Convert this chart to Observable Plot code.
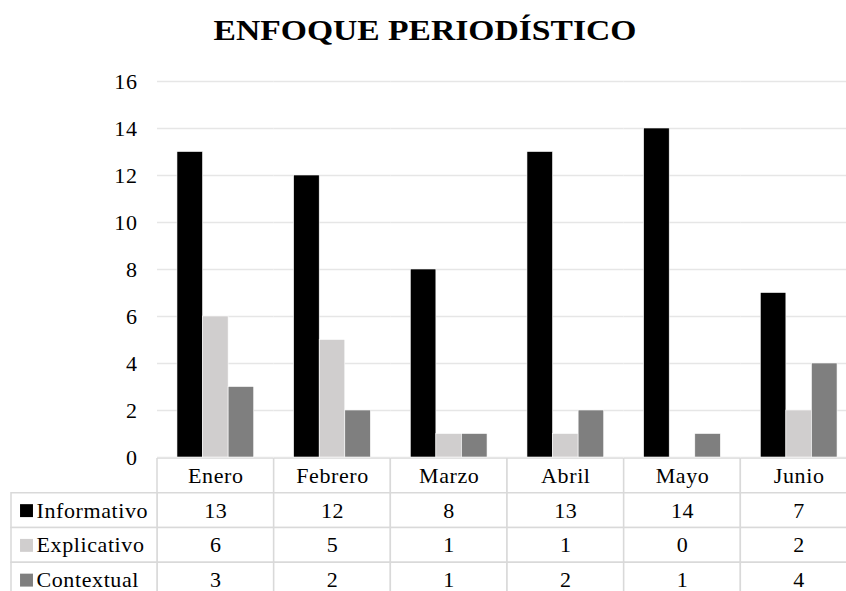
<!DOCTYPE html>
<html>
<head>
<meta charset="utf-8">
<script src="https://cdn.jsdelivr.net/npm/d3@7"></script>
<script src="https://cdn.jsdelivr.net/npm/@observablehq/plot@0.6"></script>
<style>
  html, body { margin: 0; padding: 0; background: #fff; overflow: hidden; }
  body { width: 846px; height: 591px; position: relative; font-family: 'Liberation Serif', serif; }
  #title { position: absolute; left: 0; top: 15px; width: 850px; line-height: 30px; font-size: 30px; font-weight: bold;
           text-align: center; color: #000; font-family: 'Liberation Serif', serif;
           transform: scaleX(1.12); transform-origin: 425px 50%; }
  #chart { position: absolute; left: 0; top: 56px; }
  #table { position: absolute; left: 0; top: 458px; }
  svg { display: block; }
  svg text { font-family: 'Liberation Serif', serif; letter-spacing: 0.6px; }
</style>
</head>
<body>
<div id="chart"></div>
<div id="table"></div>
<div id="title">ENFOQUE PERIODÍSTICO</div>
<script>
const months = ["Enero", "Febrero", "Marzo", "Abril", "Mayo", "Junio"];
const series = ["Informativo", "Explicativo", "Contextual"];
const informativo = [13, 12, 8, 13, 14, 7];
const explicativo = [6, 5, 1, 1, 0, 2];
const contextual = [3, 2, 1, 2, 1, 4];
const colors = ["#000000", "#d0cece", "#7f7f7f"];
const yTicks = [0, 2, 4, 6, 8, 10, 12, 14, 16];

const values = [informativo, explicativo, contextual];
const rows = [];
series.forEach((s, si) => months.forEach((m, mi) => rows.push({series: s, month: m, value: values[si][mi]})));

const font = "'Liberation Serif', serif";
const W = 846, ML = 157, MR = -11;
const FS = 22;

const chart = Plot.plot({
  width: W, height: 421,
  marginTop: 25, marginBottom: 20, marginLeft: ML, marginRight: MR,
  style: {fontFamily: font, background: "#fff", color: "#000"},
  fx: {domain: months, padding: 0, round: false, axis: null, label: null},
  x: {domain: series, paddingInner: 0, paddingOuter: 0.78, round: false, axis: null},
  y: {domain: [0, 16], axis: null},
  color: {domain: series, range: colors},
  marks: [
    Plot.gridY(yTicks, {stroke: "#e6e6e6", strokeOpacity: 1, strokeWidth: 1.5}),
    Plot.axisY(yTicks, {tickSize: 0, tickPadding: 20, fontSize: FS, fontFamily: font, fill: "#000", label: null}),
    Plot.barY(rows, {fx: "month", x: "series", y: "value", fill: "series", stroke: "#ffffff", strokeWidth: 0.6})
  ]
});
document.getElementById("chart").appendChild(chart);

const rowKeys = ["Mes", ...series];
const frameW = W - ML - MR;
const headerCells = months.map(m => ({month: m, row: "Mes"}));
const bodyCells = rows.map(d => ({month: d.month, row: d.series, value: d.value}));

const table = Plot.plot({
  width: W, height: 139,
  marginTop: 0, marginBottom: 0, marginLeft: ML, marginRight: MR,
  style: {fontFamily: font, background: "transparent", color: "#000"},
  x: {domain: months, padding: 0, round: false, axis: null},
  y: {domain: rowKeys, padding: 0, round: false, axis: null},
  color: {domain: series, range: colors},
  marks: [
    Plot.cell([...headerCells, ...bodyCells], {x: "month", y: "row", fill: "#fff", stroke: "#d9d9d9", strokeWidth: 1.5}),
    Plot.cell(series, {y: d => d, fill: "#fff", stroke: "#d9d9d9", strokeWidth: 1.5,
      insetLeft: -(ML - 11), insetRight: frameW}),
    Plot.text(headerCells, {x: "month", y: "row", text: "month", fontSize: FS, fontFamily: font, fill: "#000"}),
    Plot.text(bodyCells, {x: "month", y: "row", text: d => String(d.value), fontSize: FS, fontFamily: font, fill: "#000"}),
    Plot.dot(series, {y: d => d, frameAnchor: "left", dx: -(ML - 26), symbol: "square", r: 7.3, fill: d => d}),
    Plot.text(series, {y: d => d, frameAnchor: "left", dx: -(ML - 36), textAnchor: "start", text: d => d, fontSize: FS, fontFamily: font, fill: "#000"})
  ]
});
document.getElementById("table").appendChild(table);
</script>
</body>
</html>
